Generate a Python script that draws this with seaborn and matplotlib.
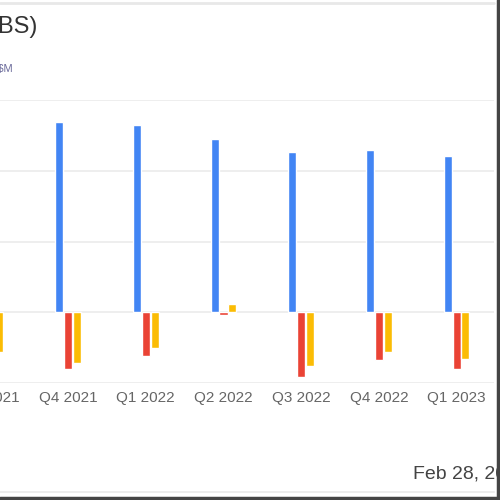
import numpy as np
import pandas as pd
import matplotlib
matplotlib.use("Agg")
import matplotlib.pyplot as plt
from matplotlib.lines import Line2D
import seaborn as sns

# ==========================================
# data (one gridline step = 100)
# ==========================================
quarters = ["Q3 2021", "Q4 2021", "Q1 2022", "Q2 2022", "Q3 2022", "Q4 2022", "Q1 2023"]
revenue = [262, 269, 265, 245, 227, 230, 221]
net_income = [-70, -80, -62, -4, -92, -68, -80]
op_cash_flow = [-56, -72, -51, 12, -76, -56, -66]
series_names = ["Revenue", "Net Income", "Operating Cash Flow"]
palette = ["#4285F4", "#EA4335", "#FBBC04"]

df = pd.DataFrame({
    "quarter": quarters * 3,
    "series": np.repeat(series_names, len(quarters)),
    "value": revenue + net_income + op_cash_flow,
})

sns.set_theme(style="whitegrid")
plt.rcParams["font.family"] = ["Liberation Sans", "DejaVu Sans"]

fig = plt.figure(figsize=(5, 5), dpi=100)
# axes deliberately runs past the left edge (the reference is a crop)
ax = fig.add_axes([-0.1, 0.234, 1.088, 0.566])

sns.barplot(data=df, x="quarter", y="value", hue="series", palette=palette,
            width=0.34, gap=0.08, ax=ax, legend=False, saturation=1)

ax.set_xlim(-0.519, 6.481)
ax.set_ylim(-100, 300)
ax.set_yticks([-100, 0, 100, 200, 300])
ax.set_yticklabels([])
ax.set_xlabel("")
ax.set_ylabel("")
ax.grid(axis="y", color="#ebebeb", linewidth=1.2)
ax.grid(axis="x", visible=False)
for sp in ax.spines.values():
    sp.set_visible(False)
ax.tick_params(axis="x", length=0, pad=6, labelsize=11, labelcolor="#666666")
ax.tick_params(axis="y", length=0)

# header / footer pieces
fig.text(38 / 500, 1 - 27 / 500, "(BS)", ha="right", va="center",
         fontsize=17, color="#333333")
fig.text(13 / 500, 1 - 69 / 500, "Quarterly, $M", ha="right", va="center",
         fontsize=8, color="#6b6b9b")
fig.text(413 / 500, 1 - 474 / 500, "Feb 28, 2024", ha="left", va="center",
         fontsize=14, color="#444444")

# frame lines of the card
fig.add_artist(Line2D([0, 494 / 500], [1 - 3 / 500] * 2, color="#e8e8e8", lw=2,
                      transform=fig.transFigure))
fig.add_artist(Line2D([0, 494 / 500], [1 - 492 / 500] * 2, color="#ececec", lw=1.5,
                      transform=fig.transFigure))
fig.add_artist(Line2D([498 / 500] * 2, [0, 1], color="#444444", lw=2.5,
                      transform=fig.transFigure))
fig.add_artist(Line2D([0, 1], [2 / 500] * 2, color="#444444", lw=2.5,
                      transform=fig.transFigure))

fig.savefig("out.png", dpi=100)
